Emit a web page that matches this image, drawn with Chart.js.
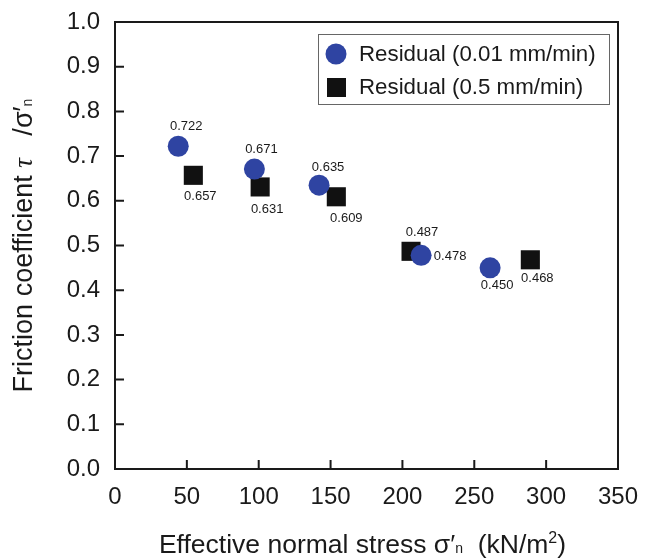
<!DOCTYPE html>
<html>
<head>
<meta charset="utf-8">
<script src="https://cdn.jsdelivr.net/npm/chart.js@4.4.1/dist/chart.umd.min.js"></script>
<style>
  html, body { margin: 0; padding: 0; background: #fff; }
  #wrap { width: 646px; height: 560px; }
</style>
</head>
<body>
<div id="wrap"><canvas id="chart"></canvas></div>
<script>
'use strict';

// residual friction, 0.01 mm/min
const stressSlow = [44, 97, 142, 213, 261];
const frictionSlow = [0.722, 0.671, 0.635, 0.478, 0.450];
// residual friction, 0.5 mm/min
const stressFast = [54.5, 101, 154, 206, 289];
const frictionFast = [0.657, 0.631, 0.609, 0.487, 0.468];

const seriesNames = ['Residual (0.01 mm/min)', 'Residual (0.5 mm/min)'];
const xTicks = [0, 50, 100, 150, 200, 250, 300, 350];
const yTicks = [0.0, 0.1, 0.2, 0.3, 0.4, 0.5, 0.6, 0.7, 0.8, 0.9, 1.0];

// where each value label sits relative to its marker (px)
const labelOffsetsSlow = [[8, -20], [7, -20], [9, -18], [29, 1], [7, 18]];
const labelOffsetsFast = [[7, 21], [7, 22], [10, 22], [11, -19], [7, 19]];

const FONT = '"Liberation Sans", Arial, Helvetica, sans-serif';
const BLUE = '#2f44a2';
const BLACK = '#111111';

function toPoints(xs, ys) {
  return xs.map(function(x, i) { return { x: x, y: ys[i] }; });
}

// draw a line of text made of runs with different fonts, centred on x
function drawRuns(ctx, runs, x, y) {
  let total = 0;
  runs.forEach(function(r) {
    ctx.font = r.font;
    r.w = ctx.measureText(r.text).width;
    total += r.w;
  });
  let cx = x - total / 2;
  ctx.textAlign = 'left';
  ctx.textBaseline = 'alphabetic';
  runs.forEach(function(r) {
    ctx.font = r.font;
    ctx.fillText(r.text, cx, y + (r.dy || 0));
    cx += r.w;
  });
}

const framePlugin = {
  id: 'frame',
  beforeDatasetsDraw(chart) {
    const ctx = chart.ctx;
    const a = chart.chartArea;
    const xs = chart.scales.x;
    const ys = chart.scales.y;
    ctx.save();
    ctx.strokeStyle = '#1a1a1a';
    ctx.lineWidth = 2;
    ctx.strokeRect(a.left, a.top, a.right - a.left, a.bottom - a.top);
    // inward ticks on bottom and left axes
    ctx.beginPath();
    xTicks.forEach(function(v) {
      if (v === xs.min || v === xs.max) return;
      const px = xs.getPixelForValue(v);
      ctx.moveTo(px, a.bottom);
      ctx.lineTo(px, a.bottom - 9);
    });
    yTicks.forEach(function(v) {
      if (v === ys.min || v === ys.max) return;
      const py = ys.getPixelForValue(v);
      ctx.moveTo(a.left, py);
      ctx.lineTo(a.left + 9, py);
    });
    ctx.stroke();
    ctx.restore();
  }
};

const labelsPlugin = {
  id: 'valueLabels',
  afterDatasetsDraw(chart) {
    const ctx = chart.ctx;
    const offsets = [labelOffsetsSlow, labelOffsetsFast];
    ctx.save();
    ctx.font = '13px ' + FONT;
    ctx.fillStyle = '#1a1a1a';
    ctx.textAlign = 'center';
    ctx.textBaseline = 'middle';
    chart.data.datasets.forEach(function(ds, di) {
      const meta = chart.getDatasetMeta(di);
      meta.data.forEach(function(el, i) {
        const off = offsets[di][i];
        ctx.fillText(ds.data[i].y.toFixed(3), el.x + off[0], el.y + off[1]);
      });
    });
    ctx.restore();
  }
};

const legendPlugin = {
  id: 'boxLegend',
  afterDraw(chart) {
    const ctx = chart.ctx;
    const a = chart.chartArea;
    const bx = a.right - 300, by = a.top + 12, bw = 291, bh = 70;
    ctx.save();
    ctx.fillStyle = '#fff';
    ctx.fillRect(bx, by, bw, bh);
    ctx.strokeStyle = '#666';
    ctx.lineWidth = 1;
    ctx.strokeRect(bx + 0.5, by + 0.5, bw, bh);

    ctx.fillStyle = BLUE;
    ctx.beginPath();
    ctx.arc(bx + 18, by + 20, 10.5, 0, Math.PI * 2);
    ctx.fill();
    ctx.fillStyle = BLACK;
    ctx.fillRect(bx + 9, by + 44, 19, 19);

    ctx.fillStyle = '#1a1a1a';
    ctx.font = '22.3px ' + FONT;
    ctx.textAlign = 'left';
    ctx.textBaseline = 'middle';
    ctx.fillText(seriesNames[0], bx + 41, by + 21);
    ctx.fillText(seriesNames[1], bx + 41, by + 54);
    ctx.restore();
  }
};

const titlesPlugin = {
  id: 'axisTitles',
  afterDraw(chart) {
    const ctx = chart.ctx;
    const a = chart.chartArea;
    const big = '26.5px ' + FONT;
    const small = '14px ' + FONT;
    ctx.save();
    ctx.fillStyle = '#1a1a1a';
    drawRuns(ctx, [
      { text: 'Effective normal stress \u03C3\u2032', font: big },
      { text: 'n', font: small },
      { text: '  (kN/m', font: big },
      { text: '2', font: '16px ' + FONT, dy: -10 },
      { text: ')', font: big }
    ], (a.left + a.right) / 2 - 4, 553);

    ctx.translate(32, (a.top + a.bottom) / 2);
    ctx.rotate(-Math.PI / 2);
    drawRuns(ctx, [
      { text: 'Friction coefficient ', font: '27px ' + FONT },
      { text: '\u03C4', font: 'italic 27px "Liberation Serif", serif' },
      { text: '   /\u03C3\u2032', font: '27px ' + FONT },
      { text: 'n', font: small }
    ], 0, 0);
    ctx.restore();
  }
};

const ctx = document.getElementById('chart').getContext('2d');
new Chart(ctx, {
  type: 'scatter',
  data: {
    datasets: [{
      label: seriesNames[0],
      data: toPoints(stressSlow, frictionSlow),
      pointStyle: 'circle',
      pointRadius: 10.5,
      pointHoverRadius: 10.5,
      backgroundColor: BLUE,
      borderColor: BLUE,
      borderWidth: 0
    }, {
      label: seriesNames[1],
      data: toPoints(stressFast, frictionFast),
      pointStyle: 'rect',
      pointRadius: 13.5,
      pointHoverRadius: 13.5,
      backgroundColor: BLACK,
      borderColor: BLACK,
      borderWidth: 0
    }]
  },
  options: {
    responsive: true,
    maintainAspectRatio: false,
    animation: false,
    layout: { padding: { top: 22, right: 28, left: 0, bottom: 0 } },
    plugins: {
      legend: { display: false },
      tooltip: { enabled: false }
    },
    scales: {
      x: {
        type: 'linear',
        min: 0,
        max: 350,
        afterBuildTicks: function(s) { s.ticks = xTicks.map(function(v) { return { value: v }; }); },
        afterFit: function(s) { s.height = 91; s.paddingLeft = 0; s.paddingRight = 0; },
        grid: { display: false, drawTicks: false },
        border: { display: false },
        ticks: {
          padding: 14,
          color: '#1a1a1a',
          font: { family: FONT, size: 24 },
          maxRotation: 0,
          callback: function(v) { return String(v); }
        }
      },
      y: {
        type: 'linear',
        min: 0,
        max: 1,
        afterBuildTicks: function(s) { s.ticks = yTicks.map(function(v) { return { value: v }; }); },
        afterFit: function(s) { s.width = 115; s.paddingTop = 0; s.paddingBottom = 0; },
        grid: { display: false, drawTicks: false },
        border: { display: false },
        ticks: {
          padding: 15,
          color: '#1a1a1a',
          font: { family: FONT, size: 24 },
          callback: function(v) { return Number(v).toFixed(1); }
        }
      }
    }
  },
  plugins: [framePlugin, labelsPlugin, legendPlugin, titlesPlugin]
});
</script>
</body>
</html>
